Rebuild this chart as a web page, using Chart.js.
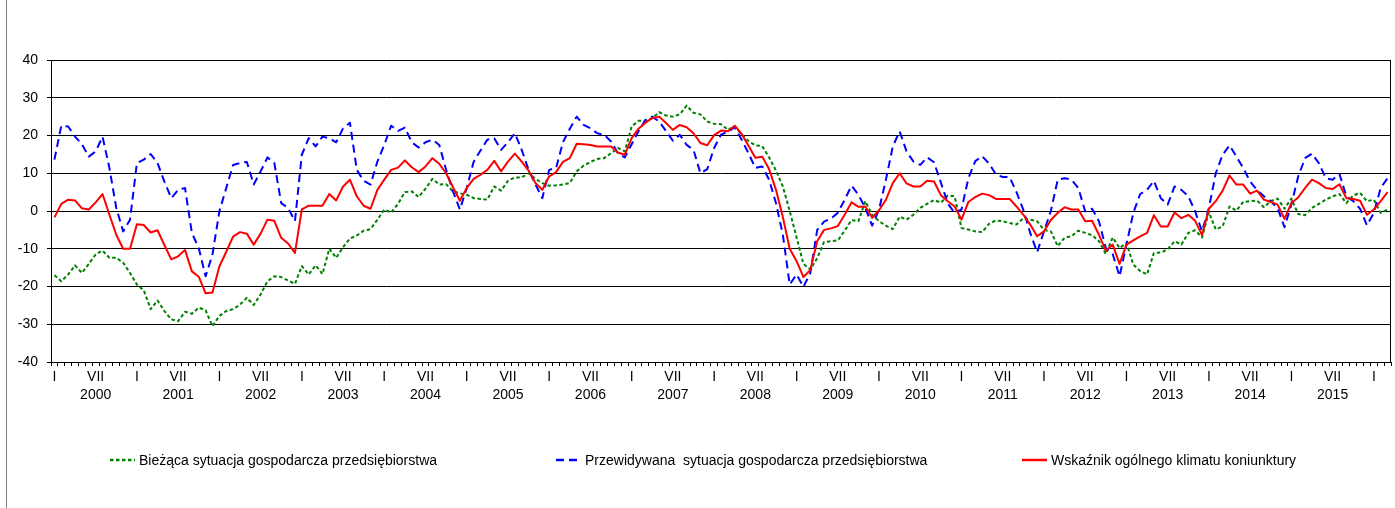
<!DOCTYPE html>
<html><head><meta charset="utf-8">
<script src="https://cdn.jsdelivr.net/npm/chart.js@4.4.1/dist/chart.umd.min.js"></script>
<style>
html,body{margin:0;padding:0;background:#fff;}
#wrap{position:relative;width:1395px;height:508px;overflow:hidden;background:#fff;}
#frame{position:absolute;left:6px;top:0;width:1px;height:508px;background:#808080;}
canvas{position:absolute;left:0;top:0;}
#legend{position:absolute;left:0;top:450px;width:1395px;height:20px;font-family:"Liberation Sans",Arial,sans-serif;font-size:14px;color:#000;}
.item{position:absolute;top:0;height:20px;display:flex;align-items:center;white-space:pre;}
.item svg{margin-right:4px;}
</style></head>
<body><div id="wrap"><canvas id="c" width="1395" height="508"></canvas><div id="frame"></div><div id="legend"></div></div>
<script>
const years = ['2000','2001','2002','2003','2004','2005','2006','2007','2008','2009','2010','2011','2012','2013','2014','2015','2016'];
const monthTicks = ['I','','','','','','VII','','','','',''];

const biezaca = [
 -17.0,-18.6,-16.8,-14.4,-16.4,-14.0,-11.5,-10.5,-12.4,-12.4,-13.7,-16.4,
 -19.5,-21.0,-26.0,-23.7,-26.5,-28.7,-29.2,-26.7,-27.2,-25.6,-26.3,-30.5,
 -27.8,-26.5,-26.0,-24.8,-23.0,-24.9,-22.1,-18.6,-17.3,-17.5,-18.4,-19.3,
 -14.6,-16.8,-14.4,-16.7,-10.0,-12.4,-9.6,-7.3,-6.5,-5.2,-4.8,-2.3,
 0.4,-0.4,1.9,5.0,5.2,3.7,5.9,8.5,7.0,7.1,5.2,4.7,
 4.3,3.4,3.2,3.0,6.5,5.4,8.0,8.9,8.9,10.0,8.5,7.4,
 6.7,6.8,7.0,7.4,10.5,12.0,13.0,13.8,14.0,15.3,16.7,15.8,
 22.4,23.9,23.9,24.6,26.2,25.3,25.0,25.6,27.9,26.0,25.6,23.7,
 23.1,23.0,21.5,22.4,20.3,18.5,17.4,17.2,14.2,10.7,6.5,0.0,
 -7.0,-14.0,-15.5,-12.5,-8.2,-8.0,-7.8,-5.2,-2.4,-2.7,2.6,-1.0,
 -2.7,-3.9,-4.8,-1.5,-2.3,-1.0,0.8,1.9,2.9,2.2,4.1,3.9,
 -4.5,-4.9,-5.4,-5.6,-3.4,-2.5,-2.7,-3.2,-3.6,-1.9,-2.3,-2.7,
 -5.0,-5.4,-9.3,-7.1,-6.7,-5.2,-5.8,-6.4,-8.0,-11.4,-7.0,-9.8,
 -8.5,-14.2,-15.9,-16.8,-11.1,-11.0,-10.2,-8.0,-8.9,-5.8,-5.1,-7.0,
 -0.3,-4.9,-4.1,1.2,0.1,2.4,2.6,2.8,1.0,2.6,3.3,0.6,
 3.3,-0.8,-1.1,0.8,1.9,3.0,3.9,4.5,2.1,4.1,4.8,2.6,
 3.0,-0.5,0.4
];

const przewidywana = [
 13.6,22.6,22.4,19.7,17.7,14.4,15.8,19.7,11.4,0.8,-5.4,-2.3,
 12.7,13.6,15.1,12.7,7.8,3.4,5.6,6.1,-5.8,-9.8,-17.3,-11.5,
 -0.1,6.1,12.2,12.7,13.0,7.0,10.5,14.2,12.7,2.1,0.8,-2.7,
 14.9,19.3,17.1,19.7,19.3,18.2,21.9,23.4,10.9,8.0,7.0,13.1,
 17.5,22.6,21.2,22.1,18.2,16.8,18.2,18.9,17.5,10.9,5.2,0.4,
 6.1,13.0,16.0,18.9,19.3,16.2,18.2,20.6,16.2,10.9,7.0,3.4,
 10.9,11.4,18.2,21.8,25.0,22.8,21.9,20.6,20.2,18.4,15.3,14.2,
 17.7,21.1,24.1,25.0,23.7,21.2,18.6,20.2,17.5,16.2,10.0,11.1,
 16.7,20.2,21.0,22.2,18.9,15.3,11.4,11.8,8.3,2.1,-6.3,-19.5,
 -16.8,-20.1,-16.4,-5.0,-2.8,-2.0,-0.5,3.0,6.7,4.3,0.8,-3.9,
 0.4,8.3,17.1,21.1,15.8,13.1,12.2,14.2,12.9,7.5,2.0,-0.5,
 0.4,8.7,13.2,14.5,12.6,9.7,9.0,9.0,5.0,0.3,-5.8,-10.9,
 -5.4,0.0,8.3,8.7,8.3,6.1,-0.1,0.6,-2.7,-9.8,-11.4,-17.3,
 -8.9,-0.5,4.5,5.6,8.0,3.4,1.7,6.5,5.6,3.9,-0.1,-5.4,
 0.8,10.0,14.9,17.4,14.4,11.4,7.8,5.6,3.9,2.6,0.8,-4.3,
 1.7,9.2,14.0,15.2,12.7,8.7,8.3,9.8,3.9,2.6,0.6,-3.8,
 -0.5,6.1,8.7
];

const wskaznik = [
 -1.7,1.9,3.0,2.8,0.7,0.4,2.3,4.5,-1.0,-6.3,-10.0,-10.0,
 -3.5,-3.7,-5.7,-5.1,-9.0,-12.8,-12.0,-10.3,-16.0,-17.4,-21.8,-21.6,
 -14.7,-10.8,-6.8,-5.6,-6.0,-8.9,-6.0,-2.3,-2.6,-7.1,-8.6,-11.1,
 0.4,1.4,1.4,1.4,4.5,2.8,6.5,8.3,3.9,1.4,0.6,5.6,
 8.3,10.9,11.5,13.4,11.6,10.3,11.8,14.0,12.5,10.0,6.3,2.7,
 6.1,8.5,9.6,10.9,13.3,10.5,13.1,15.2,13.1,10.7,7.4,5.6,
 9.2,10.3,13.0,14.0,17.8,17.7,17.5,17.1,17.1,17.1,15.5,14.9,
 19.3,21.8,23.4,24.6,25.0,23.3,21.5,22.8,22.2,20.6,18.0,17.4,
 20.1,21.3,21.1,22.6,20.4,17.3,14.1,14.4,11.1,5.6,-1.6,-10.0,
 -13.3,-17.5,-15.6,-8.0,-5.0,-4.6,-4.0,-1.0,2.3,1.1,1.2,-1.8,
 0.2,3.0,7.4,10.0,7.3,6.5,6.5,8.0,7.8,4.2,2.6,1.2,
 -2.3,2.4,3.7,4.6,4.2,3.2,3.2,3.2,1.2,-1.0,-3.6,-6.7,
 -5.4,-2.4,-0.5,1.0,0.4,0.4,-2.7,-2.6,-6.3,-10.5,-8.9,-14.0,
 -8.9,-7.8,-6.7,-5.8,-1.1,-4.1,-4.1,-0.4,-1.9,-1.0,-2.6,-6.4,
 0.6,2.6,5.4,9.4,7.0,7.0,4.6,5.4,3.0,2.4,1.7,-2.1,
 2.1,3.6,6.1,8.3,7.4,6.1,5.8,7.1,3.4,3.2,2.7,-1.0,
 0.4,2.6,5.0
];

const labels = wskaznik.map((v, i) => {
  const m = i % 12;
  const y = years[Math.floor(i / 12)];
  return m === 6 ? [monthTicks[m], y] : monthTicks[m];
});

const FONT = '"Liberation Sans", Arial, sans-serif';

const datasets = [
  { label: 'Bieżąca sytuacja gospodarcza przedsiębiorstwa', data: biezaca, borderColor: '#008000', borderDash: [3.5, 2.5], borderWidth: 2, order: 3 },
  { label: 'Przewidywana  sytuacja gospodarcza przedsiębiorstwa', data: przewidywana, borderColor: '#0000ff', borderDash: [8, 5], borderWidth: 2, order: 2 },
  { label: 'Wskaźnik ogólnego klimatu koniunktury', data: wskaznik, borderColor: '#ff0000', borderWidth: 2, order: 1 }
];

const plotBorder = {
  id: 'plotBorder',
  afterDatasetsDraw(chart) {
    const { ctx, chartArea: a } = chart;
    ctx.save();
    ctx.strokeStyle = '#000';
    ctx.lineWidth = 1;
    ctx.beginPath();
    ctx.moveTo(Math.round(a.right) - 0.5, a.top);
    ctx.lineTo(Math.round(a.right) - 0.5, a.bottom);
    ctx.stroke();
    ctx.restore();
  }
};

const chart = new Chart(document.getElementById('c'), {
  type: 'line',
  data: { labels, datasets },
  options: {
    responsive: false,
    animation: false,
    devicePixelRatio: 1,
    layout: { padding: { left: 0, right: 4, top: 60, bottom: 106 } },
    elements: { point: { radius: 0 }, line: { tension: 0, fill: false, borderJoinStyle: 'round' } },
    plugins: { legend: { display: false }, tooltip: { enabled: false } },
    scales: {
      x: {
        type: 'category',
        offset: true,
        grid: { display: true, drawOnChartArea: false, offset: true, tickLength: 4, color: '#000', lineWidth: 1 },
        border: { display: true, color: '#000', width: 1 },
        ticks: { autoSkip: false, maxRotation: 0, minRotation: 0, padding: 2, color: '#000', font: { family: FONT, size: 14, lineHeight: 1.3 } },
        afterFit(s) { s.height = 40; }
      },
      y: {
        min: -40, max: 40,
        ticks: { stepSize: 10, padding: 9, color: '#000', font: { family: FONT, size: 14 } },
        grid: { color: '#000', lineWidth: 1, tickLength: 4 },
        border: { display: true, color: '#000', width: 1 },
        afterFit(s) { s.width = 51; }
      }
    }
  },
  plugins: [plotBorder]
});

// HTML legend built from the datasets
const legendPos = [110, 556, 1022];
const legend = document.getElementById('legend');
datasets.forEach((ds, i) => {
  const item = document.createElement('div');
  item.className = 'item';
  item.style.left = legendPos[i] + 'px';
  const dash = ds.borderDash ? ds.borderDash.join(',') : 'none';
  item.innerHTML = '<svg width="25" height="6"><line x1="0" y1="3" x2="25" y2="3" stroke="' + ds.borderColor +
    '" stroke-width="2.5" stroke-dasharray="' + dash + '"/></svg>';
  const span = document.createElement('span');
  span.textContent = ds.label;
  item.appendChild(span);
  legend.appendChild(item);
});
</script>
</body></html>
